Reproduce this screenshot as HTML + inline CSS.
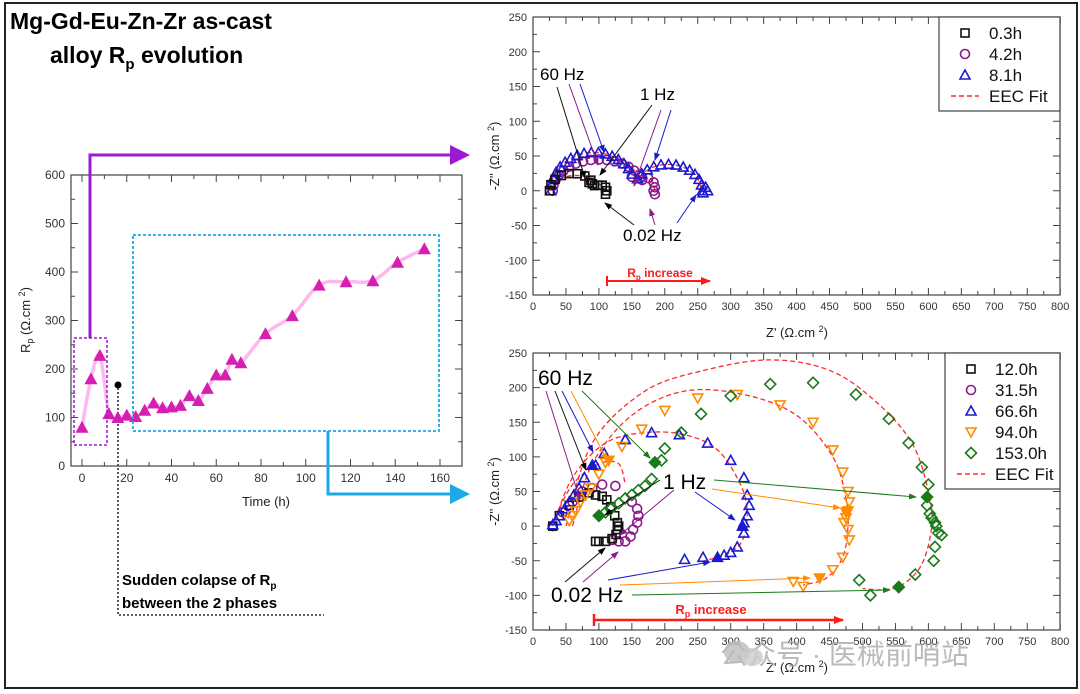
<!DOCTYPE html>
<html><head><meta charset="utf-8">
<style>
html,body{margin:0;padding:0;background:#fff;}
svg{display:block;font-family:"Liberation Sans",Arial,sans-serif;}
</style></head>
<body>
<svg id="s" width="1080" height="694" viewBox="0 0 1080 694" xmlns="http://www.w3.org/2000/svg">
<defs>
<marker id="ak" markerWidth="8" markerHeight="8" refX="7" refY="4" orient="auto" markerUnits="userSpaceOnUse"><path d="M0,1 L8,4 L0,7 z" fill="#000"/></marker>
<marker id="ap" markerWidth="8" markerHeight="8" refX="7" refY="4" orient="auto" markerUnits="userSpaceOnUse"><path d="M0,1 L8,4 L0,7 z" fill="#8b1a8b"/></marker>
<marker id="ab" markerWidth="8" markerHeight="8" refX="7" refY="4" orient="auto" markerUnits="userSpaceOnUse"><path d="M0,1 L8,4 L0,7 z" fill="#1a1ad0"/></marker>
<marker id="ao" markerWidth="8" markerHeight="8" refX="7" refY="4" orient="auto" markerUnits="userSpaceOnUse"><path d="M0,1 L8,4 L0,7 z" fill="#ff8c00"/></marker>
<marker id="ag" markerWidth="8" markerHeight="8" refX="7" refY="4" orient="auto" markerUnits="userSpaceOnUse"><path d="M0,1 L8,4 L0,7 z" fill="#1a7a1a"/></marker>
<marker id="ar" markerWidth="10" markerHeight="10" refX="9" refY="5" orient="auto" markerUnits="userSpaceOnUse"><path d="M0,1 L10,5 L0,9 z" fill="#ff1a1a"/></marker>
</defs>
<rect x="5" y="3" width="1072" height="685" fill="none" stroke="#222" stroke-width="2"/>
<text x="10" y="29" font-size="23" font-weight="bold">Mg-Gd-Eu-Zn-Zr as-cast</text>
<text x="50" y="63" font-size="23" font-weight="bold">alloy R<tspan font-size="15" dy="6">p</tspan><tspan dy="-6"> evolution</tspan></text>
<text x="122" y="585" font-size="15" font-weight="bold">Sudden colapse of R<tspan font-size="10" dy="4">p</tspan></text>
<text x="122" y="608" font-size="15" font-weight="bold">between the 2 phases</text>
<polyline points="118,388 118,615 324,615" fill="none" stroke="#000" stroke-width="1.3" stroke-dasharray="2,2"/>
<circle cx="118" cy="385" r="3.5" fill="#000"/>
<g id="g"></g>
<text x="720" y="664" font-size="28" fill="#aaa" opacity="0.8" font-family="'Liberation Sans','Noto Sans CJK SC',sans-serif">公众号 · 医械前哨站</text>
<ellipse cx="737" cy="652" rx="13" ry="11" fill="#bbb" opacity="0.8"/><ellipse cx="752" cy="657" rx="11" ry="9" fill="#ccc" opacity="0.8"/>
</svg>
<script>
var g=document.getElementById('g'),h='';
function ln(x1,y1,x2,y2,c,w,extra){h+='<line x1="'+x1+'" y1="'+y1+'" x2="'+x2+'" y2="'+y2+'" stroke="'+c+'" stroke-width="'+(w||1)+'" '+(extra||'')+'/>';}
function tx(x,y,s,t,a,extra){h+='<text x="'+x+'" y="'+y+'" font-size="'+s+'" text-anchor="'+(a||'start')+'" '+(extra||'')+'>'+t+'</text>';}
function smooth(P){var d='M'+P[0][0].toFixed(1)+','+P[0][1].toFixed(1);for(var i=0;i<P.length-1;i++){var p0=P[i-1]||P[i],p1=P[i],p2=P[i+1],p3=P[i+2]||p2;
 var c1=[p1[0]+(p2[0]-p0[0])/6,p1[1]+(p2[1]-p0[1])/6],c2=[p2[0]-(p3[0]-p1[0])/6,p2[1]-(p3[1]-p1[1])/6];
 d+='C'+c1[0].toFixed(1)+','+c1[1].toFixed(1)+' '+c2[0].toFixed(1)+','+c2[1].toFixed(1)+' '+p2[0].toFixed(1)+','+p2[1].toFixed(1);}return d;}
// ---------- left plot
function lx(t){return 82+t*2.2375;} function ly(v){return 466-v*0.485;}
h+='<rect x="71" y="175" width="391" height="291" fill="none" stroke="#444" stroke-width="1.2"/>';
for(var v=0;v<=600;v+=50){var y=ly(v);ln(71,y,v%100?75:78,y,'#444');ln(462,y,v%100?458:455,y,'#444');if(v%100==0)tx(65,y+4,12,v,'end','fill="#333"');}
for(var t=0;t<=160;t+=10){var x=lx(t);ln(x,466,x,t%20?462:459,'#444');ln(x,175,x,t%20?179:182,'#444');if(t%20==0)tx(x,482,12,t,'middle','fill="#333"');}
tx(266,506,13,'Time (h)','middle','fill="#222"');
h+='<text transform="translate(30,320) rotate(-90)" font-size="13" text-anchor="middle" fill="#222">R<tspan font-size="9" dy="3">p</tspan><tspan dy="-3"> (Ω.cm </tspan><tspan font-size="9" dy="-5">2</tspan><tspan dy="5">)</tspan></text>';
var D=[[0,80],[4,180],[8,228],[12,108],[16,100],[20,105],[24,102],[28,115],[32,130],[36,120],[40,122],[44,125],[48,145],[52,135],[56,160],[60,188],[64,188],[67,220],[71,213],[82,273],[94,310],[106,373],[118,380],[130,382],[141,420],[153,448]];
h+='<path d="'+smooth(D.map(function(d){return [lx(d[0]),ly(d[1])];}))+'" fill="none" stroke="#ffb8ee" stroke-width="3.5" stroke-linejoin="round"/>';
D.forEach(function(d){var x=lx(d[0]),y=ly(d[1]);h+='<path d="M'+(x-6.5)+','+(y+5.5)+'L'+x+','+(y-6.5)+'L'+(x+6.5)+','+(y+5.5)+'z" fill="#d61fb0"/>';});
h+='<rect x="74" y="338" width="33" height="107" fill="none" stroke="#9a1ad0" stroke-width="1.5" stroke-dasharray="3,2"/>';
h+='<rect x="133" y="235" width="306" height="196" fill="none" stroke="#1aaae8" stroke-width="1.8" stroke-dasharray="3,2"/>';
h+='<polyline points="90,338 90,155 452,155" fill="none" stroke="#9a1ad0" stroke-width="3"/><path d="M450,145 L470,155 L450,165z" fill="#9a1ad0"/>';
h+='<polyline points="328,431 328,494 452,494" fill="none" stroke="#1aaae8" stroke-width="3"/><path d="M450,484 L470,494 L450,504z" fill="#1aaae8"/>';
// ---------- nyquist helpers
function NY(top){
 var Y250=top?17:353, Y150=top?295:630;
 var o={X:function(v){return 533+v*0.659;},Y:function(v){return Y250+(250-v)*(Y150-Y250)/400;}};
 h+='<rect x="533" y="'+Y250+'" width="527" height="'+(Y150-Y250)+'" fill="none" stroke="#444" stroke-width="1.2"/>';
 for(var v=-150;v<=250;v+=25){var y=o.Y(v);ln(533,y,v%50?537:540,y,'#444');ln(1060,y,v%50?1056:1053,y,'#444');if(v%50==0)tx(527,y+4,11,v,'end','fill="#333"');}
 for(var z=0;z<=800;z+=25){var x=o.X(z);ln(x,Y150,x,Y150-(z%50?4:7),'#444');ln(x,Y250,x,Y250+(z%50?4:7),'#444');if(z%50==0)tx(x,Y150+15,11,z,'middle','fill="#333"');}
 h+='<text x="797" y="'+(Y150+42)+'" font-size="13" text-anchor="middle" fill="#222">Z\' (Ω.cm <tspan font-size="9" dy="-5">2</tspan><tspan dy="5">)</tspan></text>';
 h+='<text transform="translate(499,'+(Y250+Y150)/2+') rotate(-90)" font-size="13" text-anchor="middle" fill="#222">-Z\'\' (Ω.cm <tspan font-size="9" dy="-5">2</tspan><tspan dy="5">)</tspan></text>';
 return o;}
function mk(o,type,c,pts,fill){pts.forEach(function(q){var x=o.X(q[0]),y=o.Y(q[1]),f=fill||'none';
 if(type=='s')h+='<rect x="'+(x-4)+'" y="'+(y-4)+'" width="8" height="8" fill="'+f+'" stroke="'+c+'" stroke-width="1.6"/>';
 if(type=='c')h+='<circle cx="'+x+'" cy="'+y+'" r="4.5" fill="'+f+'" stroke="'+c+'" stroke-width="1.6"/>';
 if(type=='t')h+='<path d="M'+(x-5)+','+(y+4)+'L'+x+','+(y-5)+'L'+(x+5)+','+(y+4)+'z" fill="'+f+'" stroke="'+c+'" stroke-width="1.6"/>';
 if(type=='v')h+='<path d="M'+(x-5)+','+(y-4)+'L'+x+','+(y+5)+'L'+(x+5)+','+(y-4)+'z" fill="'+f+'" stroke="'+c+'" stroke-width="1.6"/>';
 if(type=='d')h+='<path d="M'+(x-5.5)+','+y+'L'+x+','+(y-5.5)+'L'+(x+5.5)+','+y+'L'+x+','+(y+5.5)+'z" fill="'+f+'" stroke="'+c+'" stroke-width="1.6"/>';});}
function fit(o,ctrl){h+='<path d="'+smooth(ctrl.map(function(q){return [o.X(q[0]),o.Y(q[1])];}))+'" fill="none" stroke="#ff2a2a" stroke-width="1.3" stroke-dasharray="5,3"/>';}
function arc(cx,r,a0,a1,n,ry){var q=[];for(var i=0;i<=n;i++){var a=a0+(a1-a0)*i/n;q.push([cx+r*Math.cos(a),(ry||r)*Math.sin(a)]);}return q;}
function legend(x,y,w,items){var hh=items.length*21+10;h+='<rect x="'+x+'" y="'+y+'" width="'+w+'" height="'+hh+'" fill="#fff" stroke="#444" stroke-width="1.2"/>';
 items.forEach(function(it,i){var yy=y+16+i*21;if(it[0]=='f'){ln(x+12,yy,x+40,yy,'#ff2a2a',1.6,'stroke-dasharray="5,3"');}else{var o={X:function(){return x+26;},Y:function(){return yy;}};mk(o,it[0],it[1],[[0,0]]);}
 tx(x+50,yy+6,17,it[2],'start','fill="#111"');});}
// ---------- top nyquist
var A=NY(true);
fit(A,arc(65,40,Math.PI,0.12,20,22));
fit(A,arc(100,68,Math.PI,0.3,20,48).concat([[165,22],[180,15],[185,0]]));
fit(A,arc(92,65,Math.PI,0.45,20,55).concat(arc(205,50,Math.PI*0.85,0,14,38)));
mk(A,'c','#8b1a8b',arc(100,70,Math.PI,0.35,16,45).concat([[150,20],[165,20],[175,18],[183,12],[185,5],[183,0],[185,-5]]));
mk(A,'t','#1a1ad0',arc(92,65,Math.PI,0.45,16,55).concat(arc(205,52,Math.PI*0.85,0,12,38)).concat([[262,5],[265,0],[258,-3]]));
mk(A,'s','#111',arc(60,35,Math.PI,0.3,8,25).concat([[85,12],[90,10],[98,8],[105,8],[110,5],[112,0],[110,-5]]));
tx(540,80,17,'60 Hz');tx(640,100,17,'1 Hz');tx(623,241,17,'0.02 Hz');
ln(557,87,585,178,'#111',1,'marker-end="url(#ak)"');ln(569,84,598,165,'#8b1a8b',1,'marker-end="url(#ap)"');ln(580,84,604,152,'#1a1ad0',1,'marker-end="url(#ab)"');
ln(652,105,600,175,'#111',1,'marker-end="url(#ak)"');ln(661,110,634,186,'#8b1a8b',1,'marker-end="url(#ap)"');ln(671,110,655,160,'#1a1ad0',1,'marker-end="url(#ab)"');
ln(634,225,605,203,'#111',1,'marker-end="url(#ak)"');ln(655,225,650,209,'#8b1a8b',1,'marker-end="url(#ap)"');ln(677,223,696,195,'#1a1ad0',1,'marker-end="url(#ab)"');
tx(660,277,12,'R<tspan font-size="8" dy="3">p</tspan><tspan dy="-3"> increase</tspan>','middle','fill="#ff1a1a" font-weight="bold"');
ln(607,281,710,281,'#ff1a1a',2,'marker-end="url(#ar)"');ln(607,276,607,286,'#ff1a1a',2);
legend(939,17,121,[['s','#111','0.3h'],['c','#8b1a8b','4.2h'],['t','#1a1ad0','8.1h'],['f','','EEC Fit']]);
// ---------- bottom nyquist
var B=NY(false);
fit(B,[[30,0],[60,70],[110,120],[170,135],[230,132],[280,110],[315,60],[325,20],[318,-20],[295,-40],[260,-50]]);
fit(B,[[60,0],[90,90],[150,160],[230,195],[320,190],[400,160],[455,100],[475,40],[478,0],[470,-45],[445,-75],[410,-85]]);
fit(B,[[50,0],[90,120],[170,195],[260,225],[360,240],[450,225],[520,180],[575,120],[600,50],[605,0],[590,-55],[560,-85],[530,-92],[500,-90]]);
fit(B,[[30,5],[60,60],[100,90],[130,90],[140,60]]);
mk(B,'c','#8b1a8b',[[30,0],[45,20],[60,35],[75,50],[90,55],[105,60],[125,58],[150,35],[158,25],[160,15],[158,5],[152,-5],[148,-15],[140,-22],[130,-22],[120,-20]]);
mk(B,'s','#111',[[30,0],[40,15],[55,30],[70,42],[85,48],[95,45],[105,43],[112,38],[118,28],[124,15],[128,5],[130,0],[128,-5],[126,-12],[120,-18],[110,-22],[100,-22],[95,-22]]);
mk(B,'t','#1a1ad0',[[30,2],[35,8],[40,15],[48,25],[55,35],[62,45],[70,55],[78,70],[95,88],[108,105],[140,125],[180,135],[222,132],[265,120],[300,95],[320,70],[325,45],[328,30],[325,15],[320,5],[318,0],[320,-10],[310,-30],[300,-38],[290,-42],[258,-45],[230,-48]]);
mk(B,'v','#ff8c00',[[55,8],[60,15],[65,22],[72,35],[80,45],[88,55],[100,75],[110,92],[135,115],[165,140],[200,167],[250,185],[310,190],[375,175],[425,150],[455,110],[470,78],[478,50],[480,35],[478,22],[475,12],[472,5],[478,-5],[480,-20],[470,-45],[455,-63],[395,-80],[410,-87]]);
mk(B,'d','#1a7a1a',[[100,15],[110,20],[118,25],[130,33],[140,40],[150,45],[160,52],[170,58],[180,68],[195,95],[200,112],[225,135],[255,162],[300,188],[360,205],[425,207],[490,190],[540,155],[570,120],[590,85],[600,60],[598,30],[602,18],[605,12],[610,5],[612,0],[615,-10],[620,-13],[610,-30],[608,-50],[580,-70],[495,-78],[512,-100]]);
mk(B,'t','#1a1ad0',[[90,88],[318,0],[280,-45]],'#1a1ad0');
mk(B,'v','#ff8c00',[[115,95],[435,-75],[475,20]],'#ff8c00');
mk(B,'d','#1a7a1a',[[185,92],[100,15],[598,42],[555,-88]],'#1a7a1a');
tx(538,385,21,'60 Hz');tx(663,489,21,'1 Hz');tx(551,602,21,'0.02 Hz');
ln(546,391,580,500,'#8b1a8b',1,'marker-end="url(#ap)"');ln(555,391,586,470,'#111',1,'marker-end="url(#ak)"');ln(562,391,593,452,'#1a1ad0',1,'marker-end="url(#ab)"');ln(571,391,607,460,'#ff8c00',1,'marker-end="url(#ao)"');ln(582,391,650,458,'#1a7a1a',1,'marker-end="url(#ag)"');
ln(660,480,605,515,'#111',1,'marker-end="url(#ak)"');ln(674,490,620,535,'#8b1a8b',1,'marker-end="url(#ap)"');ln(695,492,735,520,'#1a1ad0',1,'marker-end="url(#ab)"');ln(712,489,840,508,'#ff8c00',1,'marker-end="url(#ao)"');ln(714,480,916,497,'#1a7a1a',1,'marker-end="url(#ag)"');
ln(565,582,605,548,'#111',1,'marker-end="url(#ak)"');ln(583,582,618,552,'#8b1a8b',1,'marker-end="url(#ap)"');ln(608,580,710,562,'#1a1ad0',1,'marker-end="url(#ab)"');ln(620,585,810,578,'#ff8c00',1,'marker-end="url(#ao)"');ln(632,595,890,590,'#1a7a1a',1,'marker-end="url(#ag)"');
tx(711,614,13,'R<tspan font-size="9" dy="3">p</tspan><tspan dy="-3"> increase</tspan>','middle','fill="#ff1a1a" font-weight="bold"');
ln(594,620,843,620,'#ff1a1a',2.5,'marker-end="url(#ar)"');ln(594,614,594,626,'#ff1a1a',2.5);
legend(945,353,115,[['s','#111','12.0h'],['c','#8b1a8b','31.5h'],['t','#1a1ad0','66.6h'],['v','#ff8c00','94.0h'],['d','#1a7a1a','153.0h'],['f','','EEC Fit']]);
g.innerHTML=h;
</script>
</body></html>
